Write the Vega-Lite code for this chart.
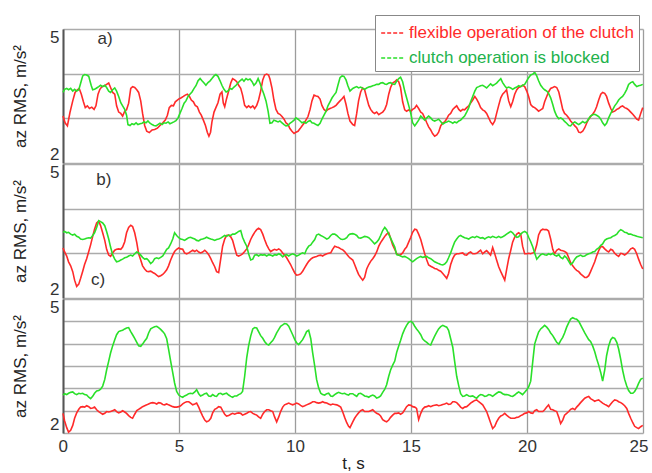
{
  "$schema": "https://vega.github.io/schema/vega-lite/v6.json",
  "background": "white",
  "padding": {"left": 11, "top": 14, "right": 2, "bottom": 2},
  "spacing": 0,
  "config": {
    "font": "Liberation Sans",
    "view": {"stroke": null},
    "axis": {
      "grid": true,
      "ticks": false,
      "labelFont": "Liberation Sans",
      "labelFontSize": 17,
      "labelColor": "#333333",
      "titleFont": "Liberation Sans",
      "titleFontSize": 17,
      "titleFontWeight": "normal",
      "titleColor": "#222222"
    },
    "axisX": {"gridColor": "#9c9c9c", "gridWidth": 1.3},
    "axisY": {"gridColor": "#ababab", "gridWidth": 1.3}
  },
  "datasets": {
    "tags": [
      {"p": "a", "t": 1.81, "v": 4.78, "label": "a)"},
      {"p": "b", "t": 1.76, "v": 4.64, "label": "b)"},
      {"p": "b", "t": 1.51, "v": 2.4, "label": "c)"}
    ],
    "a": [
      {"s":"r","t":0,"v":3.05},{"s":"r","t":0.09,"v":2.90},{"s":"r","t":0.19,"v":2.83},{"s":"r","t":0.30,"v":3.13},{"s":"r","t":0.42,"v":3.39},{"s":"r","t":0.52,"v":3.58},{"s":"r","t":0.62,"v":3.64},{"s":"r","t":0.70,"v":3.67},{"s":"r","t":0.79,"v":3.54},{"s":"r","t":0.88,"v":3.37},
      {"s":"r","t":0.96,"v":3.24},{"s":"r","t":1.05,"v":3.28},{"s":"r","t":1.14,"v":3.22},{"s":"r","t":1.24,"v":3.25},{"s":"r","t":1.34,"v":3.20},{"s":"r","t":1.42,"v":3.28},{"s":"r","t":1.51,"v":3.54},{"s":"r","t":1.59,"v":3.65},{"s":"r","t":1.68,"v":3.71},{"s":"r","t":1.80,"v":3.73},
      {"s":"r","t":1.88,"v":3.76},{"s":"r","t":1.97,"v":3.79},{"s":"r","t":2.05,"v":3.69},{"s":"r","t":2.14,"v":3.58},{"s":"r","t":2.23,"v":3.54},{"s":"r","t":2.31,"v":3.28},{"s":"r","t":2.40,"v":3.14},{"s":"r","t":2.49,"v":3.11},{"s":"r","t":2.57,"v":3.05},{"s":"r","t":2.66,"v":3.16},
      {"s":"r","t":2.74,"v":3.19},{"s":"r","t":2.83,"v":3.34},{"s":"r","t":2.92,"v":3.67},{"s":"r","t":3.00,"v":3.71},{"s":"r","t":3.09,"v":3.69},{"s":"r","t":3.18,"v":3.64},{"s":"r","t":3.26,"v":3.58},{"s":"r","t":3.35,"v":3.39},{"s":"r","t":3.43,"v":3.11},{"s":"r","t":3.52,"v":2.84},
      {"s":"r","t":3.61,"v":2.71},{"s":"r","t":3.72,"v":2.68},{"s":"r","t":3.84,"v":2.74},{"s":"r","t":3.95,"v":2.75},{"s":"r","t":4.07,"v":2.78},{"s":"r","t":4.18,"v":2.84},{"s":"r","t":4.30,"v":2.90},{"s":"r","t":4.41,"v":2.96},{"s":"r","t":4.50,"v":3.07},{"s":"r","t":4.58,"v":3.24},
      {"s":"r","t":4.67,"v":3.29},{"s":"r","t":4.76,"v":3.28},{"s":"r","t":4.84,"v":3.37},{"s":"r","t":4.93,"v":3.41},{"s":"r","t":5.01,"v":3.44},{"s":"r","t":5.10,"v":3.46},{"s":"r","t":5.19,"v":3.49},{"s":"r","t":5.27,"v":3.52},{"s":"r","t":5.36,"v":3.54},{"s":"r","t":5.45,"v":3.49},
      {"s":"r","t":5.53,"v":3.41},{"s":"r","t":5.62,"v":3.37},{"s":"r","t":5.70,"v":3.29},{"s":"r","t":5.79,"v":3.26},{"s":"r","t":5.88,"v":3.14},{"s":"r","t":5.96,"v":3.07},{"s":"r","t":6.05,"v":2.96},{"s":"r","t":6.14,"v":2.84},{"s":"r","t":6.22,"v":2.69},{"s":"r","t":6.29,"v":2.60},
      {"s":"r","t":6.36,"v":2.69},{"s":"r","t":6.42,"v":2.92},{"s":"r","t":6.51,"v":3.14},{"s":"r","t":6.59,"v":3.24},{"s":"r","t":6.68,"v":3.35},{"s":"r","t":6.77,"v":3.54},{"s":"r","t":6.85,"v":3.59},{"s":"r","t":6.91,"v":3.34},{"s":"r","t":6.97,"v":3.26},{"s":"r","t":7.05,"v":3.44},
      {"s":"r","t":7.14,"v":3.61},{"s":"r","t":7.23,"v":3.79},{"s":"r","t":7.31,"v":3.89},{"s":"r","t":7.40,"v":3.86},{"s":"r","t":7.49,"v":3.82},{"s":"r","t":7.57,"v":3.74},{"s":"r","t":7.66,"v":3.67},{"s":"r","t":7.74,"v":3.52},{"s":"r","t":7.83,"v":3.29},{"s":"r","t":7.92,"v":3.24},
      {"s":"r","t":8.00,"v":3.28},{"s":"r","t":8.09,"v":3.24},{"s":"r","t":8.18,"v":3.28},{"s":"r","t":8.26,"v":3.22},{"s":"r","t":8.35,"v":3.29},{"s":"r","t":8.43,"v":3.41},{"s":"r","t":8.52,"v":3.61},{"s":"r","t":8.61,"v":3.86},{"s":"r","t":8.69,"v":3.97},{"s":"r","t":8.78,"v":3.99},
      {"s":"r","t":8.86,"v":3.97},{"s":"r","t":8.92,"v":3.88},{"s":"r","t":9.01,"v":3.67},{"s":"r","t":9.09,"v":3.41},{"s":"r","t":9.18,"v":3.20},{"s":"r","t":9.27,"v":3.11},{"s":"r","t":9.35,"v":3.09},{"s":"r","t":9.44,"v":3.04},{"s":"r","t":9.53,"v":2.98},{"s":"r","t":9.61,"v":2.90},
      {"s":"r","t":9.70,"v":2.86},{"s":"r","t":9.78,"v":2.77},{"s":"r","t":9.87,"v":2.71},{"s":"r","t":9.96,"v":2.66},{"s":"r","t":10.04,"v":2.69},{"s":"r","t":10.13,"v":2.71},{"s":"r","t":10.22,"v":2.77},{"s":"r","t":10.30,"v":2.83},{"s":"r","t":10.39,"v":2.89},{"s":"r","t":10.47,"v":2.96},
      {"s":"r","t":10.56,"v":3.04},{"s":"r","t":10.65,"v":3.20},{"s":"r","t":10.73,"v":3.39},{"s":"r","t":10.82,"v":3.52},{"s":"r","t":10.91,"v":3.50},{"s":"r","t":10.99,"v":3.49},{"s":"r","t":11.08,"v":3.43},{"s":"r","t":11.16,"v":3.29},{"s":"r","t":11.25,"v":3.20},{"s":"r","t":11.34,"v":3.16},
      {"s":"r","t":11.42,"v":3.20},{"s":"r","t":11.51,"v":3.22},{"s":"r","t":11.60,"v":3.24},{"s":"r","t":11.68,"v":3.26},{"s":"r","t":11.77,"v":3.29},{"s":"r","t":11.85,"v":3.34},{"s":"r","t":11.94,"v":3.39},{"s":"r","t":12.03,"v":3.44},{"s":"r","t":12.11,"v":3.49},{"s":"r","t":12.20,"v":3.31},
      {"s":"r","t":12.28,"v":3.11},{"s":"r","t":12.37,"v":2.94},
      {"s":"r","t":12.49,"v":2.86},{"s":"r","t":12.57,"v":2.84},{"s":"r","t":12.66,"v":3.11},{"s":"r","t":12.74,"v":3.39},{"s":"r","t":12.83,"v":3.59},{"s":"r","t":12.92,"v":3.68},{"s":"r","t":13.00,"v":3.64},{"s":"r","t":13.09,"v":3.46},{"s":"r","t":13.18,"v":3.29},{"s":"r","t":13.26,"v":3.20},
      {"s":"r","t":13.35,"v":3.14},{"s":"r","t":13.43,"v":3.11},{"s":"r","t":13.52,"v":3.14},{"s":"r","t":13.61,"v":3.08},{"s":"r","t":13.69,"v":3.11},{"s":"r","t":13.78,"v":3.14},{"s":"r","t":13.87,"v":3.20},{"s":"r","t":13.95,"v":3.31},{"s":"r","t":14.04,"v":3.54},{"s":"r","t":14.12,"v":3.69},
      {"s":"r","t":14.21,"v":3.79},{"s":"r","t":14.30,"v":3.82},{"s":"r","t":14.38,"v":3.86},{"s":"r","t":14.47,"v":3.82},{"s":"r","t":14.55,"v":3.69},{"s":"r","t":14.64,"v":3.37},{"s":"r","t":14.73,"v":3.19},{"s":"r","t":14.81,"v":3.16},{"s":"r","t":14.90,"v":3.19},{"s":"r","t":14.99,"v":3.16},
      {"s":"r","t":15.07,"v":3.20},{"s":"r","t":15.16,"v":3.23},{"s":"r","t":15.24,"v":3.29},{"s":"r","t":15.33,"v":3.22},{"s":"r","t":15.42,"v":3.14},{"s":"r","t":15.50,"v":3.11},{"s":"r","t":15.59,"v":3.01},{"s":"r","t":15.68,"v":2.90},{"s":"r","t":15.76,"v":2.81},{"s":"r","t":15.85,"v":2.74},
      {"s":"r","t":15.93,"v":2.66},{"s":"r","t":16.02,"v":2.60},{"s":"r","t":16.11,"v":2.63},{"s":"r","t":16.19,"v":2.69},{"s":"r","t":16.28,"v":2.83},{"s":"r","t":16.37,"v":2.90},{"s":"r","t":16.45,"v":2.92},{"s":"r","t":16.54,"v":2.99},{"s":"r","t":16.62,"v":3.07},{"s":"r","t":16.71,"v":3.11},
      {"s":"r","t":16.80,"v":3.20},{"s":"r","t":16.88,"v":3.24},{"s":"r","t":16.97,"v":3.28},{"s":"r","t":17.06,"v":3.20},{"s":"r","t":17.14,"v":3.16},{"s":"r","t":17.23,"v":3.20},{"s":"r","t":17.31,"v":3.19},{"s":"r","t":17.40,"v":3.24},{"s":"r","t":17.49,"v":3.28},{"s":"r","t":17.57,"v":3.34},
      {"s":"r","t":17.66,"v":3.41},{"s":"r","t":17.75,"v":3.49},{"s":"r","t":17.83,"v":3.43},{"s":"r","t":17.92,"v":3.34},{"s":"r","t":18.00,"v":3.24},{"s":"r","t":18.09,"v":3.19},{"s":"r","t":18.18,"v":3.16},{"s":"r","t":18.26,"v":3.11},{"s":"r","t":18.35,"v":3.01},{"s":"r","t":18.43,"v":2.92},
      {"s":"r","t":18.52,"v":2.86},{"s":"r","t":18.61,"v":2.94},{"s":"r","t":18.69,"v":3.11},{"s":"r","t":18.78,"v":3.29},{"s":"r","t":18.87,"v":3.46},{"s":"r","t":18.95,"v":3.54},{"s":"r","t":19.04,"v":3.59},{"s":"r","t":19.12,"v":3.64},{"s":"r","t":19.21,"v":3.39},{"s":"r","t":19.30,"v":3.26},
      {"s":"r","t":19.38,"v":3.37},{"s":"r","t":19.47,"v":3.54},{"s":"r","t":19.56,"v":3.64},{"s":"r","t":19.64,"v":3.69},{"s":"r","t":19.73,"v":3.71},{"s":"r","t":19.81,"v":3.74},{"s":"r","t":19.90,"v":3.71},{"s":"r","t":19.99,"v":3.61},{"s":"r","t":20.07,"v":3.49},{"s":"r","t":20.16,"v":3.31},
      {"s":"r","t":20.25,"v":3.26},{"s":"r","t":20.33,"v":3.24},{"s":"r","t":20.42,"v":3.20},{"s":"r","t":20.50,"v":3.16},{"s":"r","t":20.59,"v":3.19},{"s":"r","t":20.68,"v":3.22},{"s":"r","t":20.76,"v":3.37},{"s":"r","t":20.85,"v":3.49},{"s":"r","t":20.93,"v":3.59},{"s":"r","t":21.02,"v":3.67},
      {"s":"r","t":21.11,"v":3.69},{"s":"r","t":21.19,"v":3.71},{"s":"r","t":21.28,"v":3.69},{"s":"r","t":21.37,"v":3.59},{"s":"r","t":21.45,"v":3.41},{"s":"r","t":21.54,"v":3.20},{"s":"r","t":21.62,"v":3.11},{"s":"r","t":21.71,"v":3.07},{"s":"r","t":21.80,"v":3.01},{"s":"r","t":21.88,"v":2.94},
      {"s":"r","t":21.97,"v":2.89},{"s":"r","t":22.06,"v":2.83},{"s":"r","t":22.14,"v":2.79},{"s":"r","t":22.23,"v":2.69},{"s":"r","t":22.31,"v":2.68},{"s":"r","t":22.40,"v":2.71},{"s":"r","t":22.49,"v":2.79},{"s":"r","t":22.57,"v":2.89},{"s":"r","t":22.66,"v":2.98},{"s":"r","t":22.74,"v":3.04},
      {"s":"r","t":22.83,"v":3.09},{"s":"r","t":22.92,"v":3.16},{"s":"r","t":23.00,"v":3.26},{"s":"r","t":23.09,"v":3.41},{"s":"r","t":23.18,"v":3.54},{"s":"r","t":23.26,"v":3.58},{"s":"r","t":23.35,"v":3.56},{"s":"r","t":23.43,"v":3.49},{"s":"r","t":23.52,"v":3.34},{"s":"r","t":23.61,"v":3.22},
      {"s":"r","t":23.69,"v":3.14},{"s":"r","t":23.78,"v":3.16},{"s":"r","t":23.87,"v":3.20},{"s":"r","t":23.95,"v":3.22},{"s":"r","t":24.04,"v":3.26},{"s":"r","t":24.12,"v":3.28},{"s":"r","t":24.21,"v":3.24},{"s":"r","t":24.30,"v":3.22},{"s":"r","t":24.38,"v":3.19},{"s":"r","t":24.47,"v":3.14},
      {"s":"r","t":24.56,"v":3.09},{"s":"r","t":24.64,"v":3.04},{"s":"r","t":24.73,"v":2.98},{"s":"r","t":24.81,"v":2.96},{"s":"r","t":24.90,"v":3.11},{"s":"r","t":24.99,"v":3.24},

      {"s":"g","t":0,"v":3.58},{"s":"g","t":0.07,"v":3.65},{"s":"g","t":0.16,"v":3.67},{"s":"g","t":0.24,"v":3.64},{"s":"g","t":0.33,"v":3.67},{"s":"g","t":0.42,"v":3.61},{"s":"g","t":0.50,"v":3.65},{"s":"g","t":0.59,"v":3.61},{"s":"g","t":0.68,"v":3.64},{"s":"g","t":0.73,"v":3.73},
      {"s":"g","t":0.79,"v":3.84},{"s":"g","t":0.85,"v":3.95},{"s":"g","t":0.93,"v":3.98},{"s":"g","t":1.02,"v":3.97},{"s":"g","t":1.11,"v":3.94},{"s":"g","t":1.16,"v":3.84},{"s":"g","t":1.22,"v":3.73},{"s":"g","t":1.28,"v":3.64},{"s":"g","t":1.36,"v":3.65},{"s":"g","t":1.45,"v":3.68},
      {"s":"g","t":1.54,"v":3.71},{"s":"g","t":1.62,"v":3.74},{"s":"g","t":1.71,"v":3.71},{"s":"g","t":1.80,"v":3.74},{"s":"g","t":1.88,"v":3.69},{"s":"g","t":1.97,"v":3.61},{"s":"g","t":2.05,"v":3.58},{"s":"g","t":2.14,"v":3.64},{"s":"g","t":2.23,"v":3.68},{"s":"g","t":2.31,"v":3.61},
      {"s":"g","t":2.40,"v":3.49},{"s":"g","t":2.49,"v":3.35},{"s":"g","t":2.57,"v":3.28},{"s":"g","t":2.66,"v":3.20},{"s":"g","t":2.74,"v":3.07},{"s":"g","t":2.80,"v":2.86},{"s":"g","t":2.89,"v":2.84},{"s":"g","t":2.97,"v":2.88},{"s":"g","t":3.06,"v":2.86},{"s":"g","t":3.15,"v":2.90},
      {"s":"g","t":3.23,"v":2.86},{"s":"g","t":3.32,"v":2.88},{"s":"g","t":3.41,"v":2.89},{"s":"g","t":3.49,"v":2.92},{"s":"g","t":3.58,"v":2.90},{"s":"g","t":3.66,"v":2.94},{"s":"g","t":3.75,"v":2.89},{"s":"g","t":3.84,"v":2.86},{"s":"g","t":3.92,"v":2.84},{"s":"g","t":4.01,"v":2.83},
      {"s":"g","t":4.09,"v":2.86},{"s":"g","t":4.18,"v":2.89},{"s":"g","t":4.27,"v":2.86},{"s":"g","t":4.35,"v":2.90},{"s":"g","t":4.44,"v":2.89},{"s":"g","t":4.53,"v":2.92},{"s":"g","t":4.61,"v":2.88},{"s":"g","t":4.70,"v":2.90},{"s":"g","t":4.78,"v":2.92},{"s":"g","t":4.87,"v":2.95},
      {"s":"g","t":4.96,"v":3.01},{"s":"g","t":5.04,"v":3.11},{"s":"g","t":5.13,"v":3.22},{"s":"g","t":5.22,"v":3.34},{"s":"g","t":5.30,"v":3.39},{"s":"g","t":5.39,"v":3.49},{"s":"g","t":5.47,"v":3.54},{"s":"g","t":5.56,"v":3.59},{"s":"g","t":5.65,"v":3.67},{"s":"g","t":5.73,"v":3.73},
      {"s":"g","t":5.82,"v":3.84},{"s":"g","t":5.91,"v":3.89},{"s":"g","t":5.99,"v":3.84},{"s":"g","t":6.08,"v":3.79},{"s":"g","t":6.16,"v":3.74},{"s":"g","t":6.25,"v":3.80},{"s":"g","t":6.34,"v":3.84},{"s":"g","t":6.42,"v":3.89},{"s":"g","t":6.51,"v":3.95},{"s":"g","t":6.59,"v":3.98},
      {"s":"g","t":6.68,"v":3.94},{"s":"g","t":6.77,"v":3.84},{"s":"g","t":6.85,"v":3.74},{"s":"g","t":6.94,"v":3.65},{"s":"g","t":7.03,"v":3.59},{"s":"g","t":7.11,"v":3.61},{"s":"g","t":7.20,"v":3.67},{"s":"g","t":7.28,"v":3.65},{"s":"g","t":7.37,"v":3.70},{"s":"g","t":7.46,"v":3.74},
      {"s":"g","t":7.54,"v":3.79},{"s":"g","t":7.63,"v":3.84},{"s":"g","t":7.72,"v":3.88},{"s":"g","t":7.80,"v":3.83},{"s":"g","t":7.89,"v":3.89},{"s":"g","t":7.97,"v":3.86},{"s":"g","t":8.06,"v":3.88},{"s":"g","t":8.15,"v":3.82},{"s":"g","t":8.23,"v":3.74},{"s":"g","t":8.32,"v":3.79},
      {"s":"g","t":8.41,"v":3.89},{"s":"g","t":8.49,"v":3.79},{"s":"g","t":8.58,"v":3.65},{"s":"g","t":8.66,"v":3.54},{"s":"g","t":8.75,"v":3.39},{"s":"g","t":8.84,"v":3.16},{"s":"g","t":8.92,"v":2.89},{"s":"g","t":9.01,"v":2.90},{"s":"g","t":9.09,"v":2.96},{"s":"g","t":9.18,"v":2.94},
      {"s":"g","t":9.27,"v":2.92},{"s":"g","t":9.35,"v":2.94},{"s":"g","t":9.44,"v":2.90},{"s":"g","t":9.53,"v":2.86},{"s":"g","t":9.61,"v":2.83},{"s":"g","t":9.70,"v":2.84},{"s":"g","t":9.78,"v":2.89},{"s":"g","t":9.87,"v":2.92},{"s":"g","t":9.96,"v":2.96},{"s":"g","t":10.04,"v":3.01},
      {"s":"g","t":10.13,"v":2.98},{"s":"g","t":10.22,"v":2.94},{"s":"g","t":10.30,"v":2.90},{"s":"g","t":10.39,"v":2.92},{"s":"g","t":10.47,"v":2.89},{"s":"g","t":10.56,"v":2.93},{"s":"g","t":10.65,"v":2.95},{"s":"g","t":10.73,"v":2.90},{"s":"g","t":10.82,"v":2.89},{"s":"g","t":10.91,"v":2.86},
      {"s":"g","t":10.99,"v":2.84},{"s":"g","t":11.08,"v":2.89},{"s":"g","t":11.16,"v":2.98},{"s":"g","t":11.25,"v":3.07},{"s":"g","t":11.34,"v":3.16},{"s":"g","t":11.42,"v":3.28},{"s":"g","t":11.51,"v":3.37},{"s":"g","t":11.60,"v":3.46},{"s":"g","t":11.68,"v":3.52},{"s":"g","t":11.77,"v":3.58},
      {"s":"g","t":11.85,"v":3.74},{"s":"g","t":11.94,"v":3.91},{"s":"g","t":12.03,"v":3.95},{"s":"g","t":12.11,"v":3.94},{"s":"g","t":12.20,"v":3.86},{"s":"g","t":12.28,"v":3.73},{"s":"g","t":12.37,"v":3.61},
      {"s":"g","t":12.49,"v":3.67},{"s":"g","t":12.57,"v":3.69},{"s":"g","t":12.66,"v":3.71},{"s":"g","t":12.74,"v":3.68},{"s":"g","t":12.83,"v":3.70},{"s":"g","t":12.92,"v":3.67},{"s":"g","t":13.00,"v":3.65},{"s":"g","t":13.09,"v":3.68},{"s":"g","t":13.18,"v":3.70},{"s":"g","t":13.26,"v":3.71},
      {"s":"g","t":13.35,"v":3.73},{"s":"g","t":13.43,"v":3.74},{"s":"g","t":13.52,"v":3.76},{"s":"g","t":13.61,"v":3.76},{"s":"g","t":13.69,"v":3.79},{"s":"g","t":13.78,"v":3.80},{"s":"g","t":13.87,"v":3.77},{"s":"g","t":13.95,"v":3.76},{"s":"g","t":14.04,"v":3.79},{"s":"g","t":14.12,"v":3.80},
      {"s":"g","t":14.21,"v":3.77},{"s":"g","t":14.30,"v":3.76},{"s":"g","t":14.38,"v":3.83},{"s":"g","t":14.47,"v":3.89},{"s":"g","t":14.55,"v":3.92},{"s":"g","t":14.64,"v":3.82},{"s":"g","t":14.73,"v":3.61},{"s":"g","t":14.81,"v":3.46},{"s":"g","t":14.90,"v":3.29},{"s":"g","t":14.99,"v":3.11},
      {"s":"g","t":15.07,"v":2.90},{"s":"g","t":15.16,"v":2.83},{"s":"g","t":15.24,"v":2.89},{"s":"g","t":15.33,"v":2.96},{"s":"g","t":15.42,"v":3.05},{"s":"g","t":15.50,"v":3.01},{"s":"g","t":15.59,"v":2.96},{"s":"g","t":15.68,"v":3.01},{"s":"g","t":15.76,"v":3.05},{"s":"g","t":15.85,"v":3.01},
      {"s":"g","t":15.93,"v":2.96},{"s":"g","t":16.02,"v":2.94},{"s":"g","t":16.11,"v":2.96},{"s":"g","t":16.19,"v":2.98},{"s":"g","t":16.28,"v":2.93},{"s":"g","t":16.37,"v":2.87},{"s":"g","t":16.45,"v":2.90},{"s":"g","t":16.54,"v":2.92},{"s":"g","t":16.62,"v":2.94},{"s":"g","t":16.71,"v":2.92},
      {"s":"g","t":16.80,"v":2.89},{"s":"g","t":16.88,"v":2.92},{"s":"g","t":16.97,"v":2.90},{"s":"g","t":17.06,"v":2.94},{"s":"g","t":17.14,"v":2.96},{"s":"g","t":17.23,"v":3.01},{"s":"g","t":17.31,"v":3.05},{"s":"g","t":17.40,"v":3.14},{"s":"g","t":17.49,"v":3.24},{"s":"g","t":17.57,"v":3.37},
      {"s":"g","t":17.66,"v":3.49},{"s":"g","t":17.75,"v":3.61},{"s":"g","t":17.83,"v":3.69},{"s":"g","t":17.92,"v":3.71},{"s":"g","t":18.00,"v":3.73},{"s":"g","t":18.09,"v":3.74},{"s":"g","t":18.18,"v":3.71},{"s":"g","t":18.26,"v":3.68},{"s":"g","t":18.35,"v":3.73},{"s":"g","t":18.43,"v":3.77},
      {"s":"g","t":18.52,"v":3.73},{"s":"g","t":18.61,"v":3.76},{"s":"g","t":18.69,"v":3.79},{"s":"g","t":18.78,"v":3.84},{"s":"g","t":18.87,"v":3.89},{"s":"g","t":18.95,"v":3.80},{"s":"g","t":19.04,"v":3.73},{"s":"g","t":19.12,"v":3.68},{"s":"g","t":19.21,"v":3.70},{"s":"g","t":19.30,"v":3.68},
      {"s":"g","t":19.38,"v":3.65},{"s":"g","t":19.47,"v":3.68},{"s":"g","t":19.56,"v":3.70},{"s":"g","t":19.64,"v":3.73},{"s":"g","t":19.73,"v":3.71},{"s":"g","t":19.81,"v":3.74},{"s":"g","t":19.90,"v":3.76},{"s":"g","t":19.99,"v":3.84},{"s":"g","t":20.07,"v":3.91},{"s":"g","t":20.16,"v":3.97},
      {"s":"g","t":20.25,"v":3.99},{"s":"g","t":20.33,"v":4.03},{"s":"g","t":20.42,"v":3.95},{"s":"g","t":20.50,"v":3.84},{"s":"g","t":20.59,"v":3.74},{"s":"g","t":20.68,"v":3.68},{"s":"g","t":20.76,"v":3.64},{"s":"g","t":20.85,"v":3.61},{"s":"g","t":20.93,"v":3.56},{"s":"g","t":21.02,"v":3.46},
      {"s":"g","t":21.11,"v":3.31},{"s":"g","t":21.19,"v":3.16},{"s":"g","t":21.28,"v":3.05},{"s":"g","t":21.37,"v":2.99},{"s":"g","t":21.45,"v":3.01},{"s":"g","t":21.54,"v":2.98},{"s":"g","t":21.62,"v":2.93},{"s":"g","t":21.71,"v":2.89},{"s":"g","t":21.80,"v":2.84},{"s":"g","t":21.88,"v":2.83},
      {"s":"g","t":21.97,"v":2.89},{"s":"g","t":22.06,"v":2.92},{"s":"g","t":22.14,"v":2.89},{"s":"g","t":22.23,"v":2.86},{"s":"g","t":22.31,"v":2.89},{"s":"g","t":22.40,"v":2.93},{"s":"g","t":22.49,"v":2.90},{"s":"g","t":22.57,"v":2.92},{"s":"g","t":22.66,"v":2.99},{"s":"g","t":22.74,"v":3.05},
      {"s":"g","t":22.83,"v":3.08},{"s":"g","t":22.92,"v":3.09},{"s":"g","t":23.00,"v":3.07},{"s":"g","t":23.09,"v":3.04},{"s":"g","t":23.18,"v":2.98},{"s":"g","t":23.26,"v":2.90},{"s":"g","t":23.35,"v":2.84},{"s":"g","t":23.43,"v":2.89},{"s":"g","t":23.52,"v":3.01},{"s":"g","t":23.61,"v":3.11},
      {"s":"g","t":23.69,"v":3.19},{"s":"g","t":23.78,"v":3.28},{"s":"g","t":23.87,"v":3.34},{"s":"g","t":23.95,"v":3.41},{"s":"g","t":24.04,"v":3.46},{"s":"g","t":24.12,"v":3.49},{"s":"g","t":24.21,"v":3.56},{"s":"g","t":24.30,"v":3.65},{"s":"g","t":24.38,"v":3.76},{"s":"g","t":24.47,"v":3.80},
      {"s":"g","t":24.56,"v":3.82},{"s":"g","t":24.64,"v":3.76},{"s":"g","t":24.73,"v":3.71},{"s":"g","t":24.81,"v":3.73},{"s":"g","t":24.90,"v":3.74},{"s":"g","t":24.99,"v":3.76}
    ],
    "b": [
      {"s":"r","t":0,"v":3.12},{"s":"r","t":0.07,"v":3.03},{"s":"r","t":0.16,"v":2.94},{"s":"r","t":0.24,"v":2.81},{"s":"r","t":0.33,"v":2.72},{"s":"r","t":0.42,"v":2.59},{"s":"r","t":0.50,"v":2.40},{"s":"r","t":0.59,"v":2.26},{"s":"r","t":0.68,"v":2.31},{"s":"r","t":0.76,"v":2.44},
      {"s":"r","t":0.85,"v":2.60},{"s":"r","t":0.93,"v":2.75},{"s":"r","t":1.02,"v":2.88},{"s":"r","t":1.11,"v":3.04},{"s":"r","t":1.19,"v":3.19},{"s":"r","t":1.28,"v":3.38},{"s":"r","t":1.36,"v":3.54},{"s":"r","t":1.45,"v":3.68},{"s":"r","t":1.54,"v":3.72},{"s":"r","t":1.62,"v":3.62},
      {"s":"r","t":1.71,"v":3.46},{"s":"r","t":1.80,"v":3.29},{"s":"r","t":1.88,"v":3.09},{"s":"r","t":1.97,"v":2.96},{"s":"r","t":2.05,"v":2.93},{"s":"r","t":2.14,"v":3.01},{"s":"r","t":2.23,"v":3.07},{"s":"r","t":2.31,"v":3.09},{"s":"r","t":2.40,"v":3.10},{"s":"r","t":2.49,"v":3.09},
      {"s":"r","t":2.57,"v":3.14},{"s":"r","t":2.66,"v":3.26},{"s":"r","t":2.74,"v":3.46},{"s":"r","t":2.83,"v":3.58},{"s":"r","t":2.92,"v":3.63},{"s":"r","t":3.00,"v":3.60},{"s":"r","t":3.09,"v":3.46},{"s":"r","t":3.18,"v":3.24},{"s":"r","t":3.26,"v":2.99},{"s":"r","t":3.35,"v":2.85},
      {"s":"r","t":3.43,"v":2.72},{"s":"r","t":3.52,"v":2.65},{"s":"r","t":3.61,"v":2.60},{"s":"r","t":3.69,"v":2.59},{"s":"r","t":3.78,"v":2.60},{"s":"r","t":3.87,"v":2.57},{"s":"r","t":3.95,"v":2.55},{"s":"r","t":4.04,"v":2.51},{"s":"r","t":4.12,"v":2.48},{"s":"r","t":4.21,"v":2.50},
      {"s":"r","t":4.30,"v":2.53},{"s":"r","t":4.38,"v":2.57},{"s":"r","t":4.47,"v":2.63},{"s":"r","t":4.55,"v":2.72},{"s":"r","t":4.64,"v":2.85},{"s":"r","t":4.73,"v":2.96},{"s":"r","t":4.81,"v":3.04},{"s":"r","t":4.90,"v":3.09},{"s":"r","t":4.99,"v":3.12},{"s":"r","t":5.07,"v":3.10},
      {"s":"r","t":5.16,"v":3.09},{"s":"r","t":5.24,"v":3.01},{"s":"r","t":5.33,"v":2.99},{"s":"r","t":5.42,"v":3.01},{"s":"r","t":5.50,"v":3.04},{"s":"r","t":5.59,"v":3.07},{"s":"r","t":5.68,"v":3.04},{"s":"r","t":5.76,"v":3.07},{"s":"r","t":5.85,"v":3.03},{"s":"r","t":5.93,"v":3.01},
      {"s":"r","t":6.02,"v":3.03},{"s":"r","t":6.11,"v":3.07},{"s":"r","t":6.19,"v":3.03},{"s":"r","t":6.28,"v":2.97},{"s":"r","t":6.37,"v":2.88},{"s":"r","t":6.45,"v":2.79},{"s":"r","t":6.54,"v":2.70},{"s":"r","t":6.62,"v":2.59},{"s":"r","t":6.71,"v":2.57},{"s":"r","t":6.80,"v":2.88},
      {"s":"r","t":6.88,"v":3.16},{"s":"r","t":6.97,"v":3.32},{"s":"r","t":7.05,"v":3.40},{"s":"r","t":7.14,"v":3.41},{"s":"r","t":7.23,"v":3.37},{"s":"r","t":7.31,"v":3.29},{"s":"r","t":7.40,"v":3.12},{"s":"r","t":7.49,"v":2.96},{"s":"r","t":7.57,"v":2.94},{"s":"r","t":7.66,"v":2.96},
      {"s":"r","t":7.74,"v":2.99},{"s":"r","t":7.83,"v":3.04},{"s":"r","t":7.92,"v":3.10},{"s":"r","t":8.00,"v":3.19},{"s":"r","t":8.09,"v":3.31},{"s":"r","t":8.18,"v":3.40},{"s":"r","t":8.26,"v":3.47},{"s":"r","t":8.35,"v":3.53},{"s":"r","t":8.43,"v":3.56},{"s":"r","t":8.52,"v":3.53},
      {"s":"r","t":8.61,"v":3.43},{"s":"r","t":8.69,"v":3.31},{"s":"r","t":8.78,"v":3.19},{"s":"r","t":8.87,"v":3.10},{"s":"r","t":8.95,"v":3.04},{"s":"r","t":9.04,"v":3.07},{"s":"r","t":9.12,"v":3.09},{"s":"r","t":9.21,"v":3.07},{"s":"r","t":9.30,"v":3.10},{"s":"r","t":9.38,"v":3.07},
      {"s":"r","t":9.47,"v":3.01},{"s":"r","t":9.55,"v":2.96},{"s":"r","t":9.64,"v":2.90},{"s":"r","t":9.73,"v":2.82},{"s":"r","t":9.81,"v":2.75},{"s":"r","t":9.90,"v":2.65},{"s":"r","t":9.99,"v":2.56},{"s":"r","t":10.07,"v":2.51},{"s":"r","t":10.16,"v":2.52},{"s":"r","t":10.24,"v":2.54},
      {"s":"r","t":10.33,"v":2.60},{"s":"r","t":10.42,"v":2.68},{"s":"r","t":10.50,"v":2.75},{"s":"r","t":10.59,"v":2.82},{"s":"r","t":10.68,"v":2.87},{"s":"r","t":10.76,"v":2.90},{"s":"r","t":10.85,"v":2.92},{"s":"r","t":10.93,"v":2.93},{"s":"r","t":11.02,"v":2.95},{"s":"r","t":11.11,"v":2.96},
      {"s":"r","t":11.19,"v":2.94},{"s":"r","t":11.28,"v":2.97},{"s":"r","t":11.37,"v":2.99},{"s":"r","t":11.45,"v":3.00},{"s":"r","t":11.54,"v":3.01},{"s":"r","t":11.62,"v":3.09},{"s":"r","t":11.71,"v":3.16},{"s":"r","t":11.80,"v":3.14},{"s":"r","t":11.88,"v":3.13},{"s":"r","t":11.97,"v":3.10},
      {"s":"r","t":12.05,"v":3.08},{"s":"r","t":12.14,"v":3.04},{"s":"r","t":12.23,"v":2.98},{"s":"r","t":12.31,"v":2.93},{"s":"r","t":12.37,"v":2.90},
      {"s":"r","t":12.49,"v":2.85},{"s":"r","t":12.57,"v":2.75},{"s":"r","t":12.66,"v":2.63},{"s":"r","t":12.74,"v":2.53},{"s":"r","t":12.83,"v":2.46},{"s":"r","t":12.92,"v":2.40},{"s":"r","t":13.00,"v":2.46},{"s":"r","t":13.09,"v":2.65},{"s":"r","t":13.18,"v":2.75},{"s":"r","t":13.26,"v":2.82},
      {"s":"r","t":13.35,"v":2.88},{"s":"r","t":13.43,"v":2.94},{"s":"r","t":13.52,"v":3.03},{"s":"r","t":13.61,"v":3.16},{"s":"r","t":13.69,"v":3.24},{"s":"r","t":13.78,"v":3.31},{"s":"r","t":13.87,"v":3.38},{"s":"r","t":13.95,"v":3.43},{"s":"r","t":14.04,"v":3.46},{"s":"r","t":14.12,"v":3.34},
      {"s":"r","t":14.21,"v":3.19},{"s":"r","t":14.30,"v":3.09},{"s":"r","t":14.38,"v":2.99},{"s":"r","t":14.47,"v":2.96},{"s":"r","t":14.55,"v":2.97},{"s":"r","t":14.64,"v":3.01},{"s":"r","t":14.73,"v":3.09},{"s":"r","t":14.81,"v":3.14},{"s":"r","t":14.90,"v":3.25},{"s":"r","t":14.99,"v":3.36},
      {"s":"r","t":15.07,"v":3.47},{"s":"r","t":15.16,"v":3.54},{"s":"r","t":15.24,"v":3.53},{"s":"r","t":15.33,"v":3.43},{"s":"r","t":15.42,"v":3.31},{"s":"r","t":15.50,"v":3.16},{"s":"r","t":15.59,"v":2.99},{"s":"r","t":15.68,"v":2.85},{"s":"r","t":15.76,"v":2.74},{"s":"r","t":15.85,"v":2.71},
      {"s":"r","t":15.93,"v":2.69},{"s":"r","t":16.02,"v":2.66},{"s":"r","t":16.11,"v":2.65},{"s":"r","t":16.19,"v":2.62},{"s":"r","t":16.28,"v":2.60},{"s":"r","t":16.37,"v":2.55},{"s":"r","t":16.45,"v":2.50},{"s":"r","t":16.54,"v":2.44},{"s":"r","t":16.62,"v":2.55},{"s":"r","t":16.71,"v":2.75},
      {"s":"r","t":16.80,"v":2.88},{"s":"r","t":16.88,"v":2.96},{"s":"r","t":16.97,"v":2.99},{"s":"r","t":17.06,"v":2.99},{"s":"r","t":17.14,"v":3.00},{"s":"r","t":17.23,"v":3.01},{"s":"r","t":17.31,"v":2.97},{"s":"r","t":17.40,"v":2.96},{"s":"r","t":17.49,"v":3.01},{"s":"r","t":17.57,"v":3.03},
      {"s":"r","t":17.66,"v":2.99},{"s":"r","t":17.75,"v":2.99},{"s":"r","t":17.83,"v":3.00},{"s":"r","t":17.92,"v":3.04},{"s":"r","t":18.00,"v":3.07},{"s":"r","t":18.09,"v":2.99},{"s":"r","t":18.18,"v":3.03},{"s":"r","t":18.26,"v":3.06},{"s":"r","t":18.35,"v":3.01},{"s":"r","t":18.43,"v":2.96},
      {"s":"r","t":18.52,"v":3.13},{"s":"r","t":18.61,"v":2.99},{"s":"r","t":18.69,"v":2.85},{"s":"r","t":18.78,"v":2.70},{"s":"r","t":18.87,"v":2.59},{"s":"r","t":18.95,"v":2.50},{"s":"r","t":19.04,"v":2.40},{"s":"r","t":19.12,"v":2.63},{"s":"r","t":19.21,"v":2.88},{"s":"r","t":19.30,"v":3.07},
      {"s":"r","t":19.38,"v":3.25},{"s":"r","t":19.47,"v":3.36},{"s":"r","t":19.56,"v":3.43},{"s":"r","t":19.64,"v":3.46},{"s":"r","t":19.73,"v":3.43},{"s":"r","t":19.81,"v":3.16},{"s":"r","t":19.90,"v":2.99},{"s":"r","t":19.99,"v":2.99},{"s":"r","t":20.07,"v":3.00},{"s":"r","t":20.16,"v":2.99},
      {"s":"r","t":20.25,"v":3.01},{"s":"r","t":20.33,"v":3.03},{"s":"r","t":20.42,"v":3.19},{"s":"r","t":20.50,"v":3.41},{"s":"r","t":20.59,"v":3.51},{"s":"r","t":20.68,"v":3.54},{"s":"r","t":20.76,"v":3.53},{"s":"r","t":20.85,"v":3.53},{"s":"r","t":20.93,"v":3.50},{"s":"r","t":21.02,"v":3.32},
      {"s":"r","t":21.11,"v":3.09},{"s":"r","t":21.19,"v":2.99},{"s":"r","t":21.28,"v":3.07},{"s":"r","t":21.37,"v":3.10},{"s":"r","t":21.45,"v":3.07},{"s":"r","t":21.54,"v":3.06},{"s":"r","t":21.62,"v":3.04},{"s":"r","t":21.71,"v":3.01},{"s":"r","t":21.80,"v":2.90},{"s":"r","t":21.88,"v":2.79},
      {"s":"r","t":21.97,"v":2.72},{"s":"r","t":22.06,"v":2.66},{"s":"r","t":22.14,"v":2.62},{"s":"r","t":22.23,"v":2.59},{"s":"r","t":22.31,"v":2.54},{"s":"r","t":22.40,"v":2.50},{"s":"r","t":22.49,"v":2.46},{"s":"r","t":22.57,"v":2.46},{"s":"r","t":22.66,"v":2.50},{"s":"r","t":22.74,"v":2.59},
      {"s":"r","t":22.83,"v":2.70},{"s":"r","t":22.92,"v":2.81},{"s":"r","t":23.00,"v":2.94},{"s":"r","t":23.09,"v":3.06},{"s":"r","t":23.18,"v":3.15},{"s":"r","t":23.26,"v":3.15},{"s":"r","t":23.35,"v":3.10},{"s":"r","t":23.43,"v":3.06},{"s":"r","t":23.52,"v":3.03},{"s":"r","t":23.61,"v":3.09},
      {"s":"r","t":23.69,"v":3.07},{"s":"r","t":23.78,"v":3.00},{"s":"r","t":23.87,"v":2.96},{"s":"r","t":23.95,"v":2.93},{"s":"r","t":24.04,"v":3.00},{"s":"r","t":24.12,"v":2.99},{"s":"r","t":24.21,"v":2.96},{"s":"r","t":24.30,"v":3.00},{"s":"r","t":24.38,"v":3.04},{"s":"r","t":24.47,"v":3.10},
      {"s":"r","t":24.56,"v":3.12},{"s":"r","t":24.64,"v":3.09},{"s":"r","t":24.73,"v":2.99},{"s":"r","t":24.81,"v":2.87},{"s":"r","t":24.90,"v":2.75},{"s":"r","t":24.99,"v":2.65},

      {"s":"g","t":0,"v":3.47},{"s":"g","t":0.07,"v":3.49},{"s":"g","t":0.16,"v":3.46},{"s":"g","t":0.24,"v":3.47},{"s":"g","t":0.33,"v":3.43},{"s":"g","t":0.42,"v":3.41},{"s":"g","t":0.50,"v":3.43},{"s":"g","t":0.59,"v":3.38},{"s":"g","t":0.68,"v":3.36},{"s":"g","t":0.76,"v":3.32},
      {"s":"g","t":0.85,"v":3.31},{"s":"g","t":0.93,"v":3.32},{"s":"g","t":1.02,"v":3.34},{"s":"g","t":1.11,"v":3.35},{"s":"g","t":1.19,"v":3.34},{"s":"g","t":1.28,"v":3.40},{"s":"g","t":1.36,"v":3.46},{"s":"g","t":1.45,"v":3.58},{"s":"g","t":1.54,"v":3.73},{"s":"g","t":1.62,"v":3.71},
      {"s":"g","t":1.71,"v":3.68},{"s":"g","t":1.80,"v":3.62},{"s":"g","t":1.88,"v":3.49},{"s":"g","t":1.97,"v":3.32},{"s":"g","t":2.05,"v":3.14},{"s":"g","t":2.14,"v":2.97},{"s":"g","t":2.23,"v":2.87},{"s":"g","t":2.31,"v":2.81},{"s":"g","t":2.40,"v":2.82},{"s":"g","t":2.49,"v":2.85},
      {"s":"g","t":2.57,"v":2.87},{"s":"g","t":2.66,"v":2.90},{"s":"g","t":2.74,"v":2.91},{"s":"g","t":2.83,"v":2.94},{"s":"g","t":2.92,"v":2.96},{"s":"g","t":3.00,"v":2.94},{"s":"g","t":3.09,"v":2.99},{"s":"g","t":3.18,"v":3.03},{"s":"g","t":3.26,"v":3.01},{"s":"g","t":3.35,"v":2.96},
      {"s":"g","t":3.43,"v":2.91},{"s":"g","t":3.52,"v":2.87},{"s":"g","t":3.61,"v":2.88},{"s":"g","t":3.69,"v":2.84},{"s":"g","t":3.78,"v":2.77},{"s":"g","t":3.87,"v":2.81},{"s":"g","t":3.95,"v":2.88},{"s":"g","t":4.04,"v":2.90},{"s":"g","t":4.12,"v":2.88},{"s":"g","t":4.21,"v":2.91},
      {"s":"g","t":4.30,"v":2.94},{"s":"g","t":4.38,"v":3.01},{"s":"g","t":4.47,"v":3.09},{"s":"g","t":4.55,"v":3.12},{"s":"g","t":4.64,"v":3.21},{"s":"g","t":4.73,"v":3.32},{"s":"g","t":4.81,"v":3.46},{"s":"g","t":4.90,"v":3.40},{"s":"g","t":4.99,"v":3.35},{"s":"g","t":5.07,"v":3.32},
      {"s":"g","t":5.16,"v":3.31},{"s":"g","t":5.24,"v":3.29},{"s":"g","t":5.33,"v":3.32},{"s":"g","t":5.42,"v":3.35},{"s":"g","t":5.50,"v":3.36},{"s":"g","t":5.59,"v":3.34},{"s":"g","t":5.68,"v":3.32},{"s":"g","t":5.76,"v":3.29},{"s":"g","t":5.85,"v":3.28},{"s":"g","t":5.93,"v":3.31},
      {"s":"g","t":6.02,"v":3.32},{"s":"g","t":6.11,"v":3.34},{"s":"g","t":6.19,"v":3.36},{"s":"g","t":6.28,"v":3.34},{"s":"g","t":6.37,"v":3.32},{"s":"g","t":6.45,"v":3.31},{"s":"g","t":6.54,"v":3.29},{"s":"g","t":6.62,"v":3.31},{"s":"g","t":6.71,"v":3.32},{"s":"g","t":6.80,"v":3.34},
      {"s":"g","t":6.88,"v":3.37},{"s":"g","t":6.97,"v":3.40},{"s":"g","t":7.05,"v":3.38},{"s":"g","t":7.14,"v":3.41},{"s":"g","t":7.23,"v":3.40},{"s":"g","t":7.31,"v":3.43},{"s":"g","t":7.40,"v":3.43},{"s":"g","t":7.49,"v":3.46},{"s":"g","t":7.57,"v":3.49},{"s":"g","t":7.66,"v":3.51},
      {"s":"g","t":7.74,"v":3.36},{"s":"g","t":7.83,"v":3.25},{"s":"g","t":7.92,"v":3.16},{"s":"g","t":8.00,"v":2.99},{"s":"g","t":8.09,"v":2.85},{"s":"g","t":8.18,"v":2.87},{"s":"g","t":8.26,"v":2.96},{"s":"g","t":8.35,"v":2.97},{"s":"g","t":8.43,"v":2.94},{"s":"g","t":8.52,"v":2.97},
      {"s":"g","t":8.61,"v":2.96},{"s":"g","t":8.69,"v":2.97},{"s":"g","t":8.78,"v":2.94},{"s":"g","t":8.87,"v":2.97},{"s":"g","t":8.95,"v":2.96},{"s":"g","t":9.04,"v":2.94},{"s":"g","t":9.12,"v":2.97},{"s":"g","t":9.21,"v":2.96},{"s":"g","t":9.30,"v":2.99},{"s":"g","t":9.38,"v":2.97},
      {"s":"g","t":9.47,"v":2.92},{"s":"g","t":9.55,"v":2.96},{"s":"g","t":9.64,"v":2.97},{"s":"g","t":9.73,"v":2.94},{"s":"g","t":9.81,"v":2.97},{"s":"g","t":9.90,"v":2.99},{"s":"g","t":9.99,"v":2.97},{"s":"g","t":10.07,"v":2.94},{"s":"g","t":10.16,"v":2.96},{"s":"g","t":10.24,"v":2.99},
      {"s":"g","t":10.33,"v":3.01},{"s":"g","t":10.42,"v":2.99},{"s":"g","t":10.50,"v":3.09},{"s":"g","t":10.59,"v":3.16},{"s":"g","t":10.68,"v":3.19},{"s":"g","t":10.76,"v":3.25},{"s":"g","t":10.85,"v":3.31},{"s":"g","t":10.93,"v":3.41},{"s":"g","t":11.02,"v":3.43},{"s":"g","t":11.11,"v":3.40},
      {"s":"g","t":11.19,"v":3.38},{"s":"g","t":11.28,"v":3.35},{"s":"g","t":11.37,"v":3.32},{"s":"g","t":11.45,"v":3.34},{"s":"g","t":11.54,"v":3.40},{"s":"g","t":11.62,"v":3.43},{"s":"g","t":11.71,"v":3.43},{"s":"g","t":11.80,"v":3.40},{"s":"g","t":11.88,"v":3.36},{"s":"g","t":11.97,"v":3.32},
      {"s":"g","t":12.05,"v":3.31},{"s":"g","t":12.14,"v":3.32},{"s":"g","t":12.23,"v":3.35},{"s":"g","t":12.31,"v":3.41},{"s":"g","t":12.37,"v":3.43},
      {"s":"g","t":12.49,"v":3.44},{"s":"g","t":12.57,"v":3.43},{"s":"g","t":12.66,"v":3.40},{"s":"g","t":12.74,"v":3.35},{"s":"g","t":12.83,"v":3.34},{"s":"g","t":12.92,"v":3.36},{"s":"g","t":13.00,"v":3.38},{"s":"g","t":13.09,"v":3.37},{"s":"g","t":13.18,"v":3.35},{"s":"g","t":13.26,"v":3.31},
      {"s":"g","t":13.35,"v":3.26},{"s":"g","t":13.43,"v":3.21},{"s":"g","t":13.52,"v":3.25},{"s":"g","t":13.61,"v":3.31},{"s":"g","t":13.69,"v":3.40},{"s":"g","t":13.78,"v":3.51},{"s":"g","t":13.87,"v":3.58},{"s":"g","t":13.95,"v":3.53},{"s":"g","t":14.04,"v":3.43},{"s":"g","t":14.12,"v":3.34},
      {"s":"g","t":14.21,"v":3.24},{"s":"g","t":14.30,"v":3.14},{"s":"g","t":14.38,"v":2.97},{"s":"g","t":14.47,"v":2.96},{"s":"g","t":14.55,"v":2.94},{"s":"g","t":14.64,"v":2.92},{"s":"g","t":14.73,"v":2.93},{"s":"g","t":14.81,"v":2.91},{"s":"g","t":14.90,"v":2.88},{"s":"g","t":14.99,"v":2.84},
      {"s":"g","t":15.07,"v":2.81},{"s":"g","t":15.16,"v":2.85},{"s":"g","t":15.24,"v":2.88},{"s":"g","t":15.33,"v":2.91},{"s":"g","t":15.42,"v":2.93},{"s":"g","t":15.50,"v":2.91},{"s":"g","t":15.59,"v":2.92},{"s":"g","t":15.68,"v":2.93},{"s":"g","t":15.76,"v":2.90},{"s":"g","t":15.85,"v":2.88},
      {"s":"g","t":15.93,"v":2.85},{"s":"g","t":16.02,"v":2.81},{"s":"g","t":16.11,"v":2.79},{"s":"g","t":16.19,"v":2.77},{"s":"g","t":16.28,"v":2.75},{"s":"g","t":16.37,"v":2.74},{"s":"g","t":16.45,"v":2.76},{"s":"g","t":16.54,"v":2.81},{"s":"g","t":16.62,"v":2.90},{"s":"g","t":16.71,"v":3.01},
      {"s":"g","t":16.80,"v":3.14},{"s":"g","t":16.88,"v":3.25},{"s":"g","t":16.97,"v":3.32},{"s":"g","t":17.06,"v":3.38},{"s":"g","t":17.14,"v":3.40},{"s":"g","t":17.23,"v":3.37},{"s":"g","t":17.31,"v":3.35},{"s":"g","t":17.40,"v":3.34},{"s":"g","t":17.49,"v":3.32},{"s":"g","t":17.57,"v":3.35},
      {"s":"g","t":17.66,"v":3.37},{"s":"g","t":17.75,"v":3.35},{"s":"g","t":17.83,"v":3.38},{"s":"g","t":17.92,"v":3.36},{"s":"g","t":18.00,"v":3.34},{"s":"g","t":18.09,"v":3.35},{"s":"g","t":18.18,"v":3.32},{"s":"g","t":18.26,"v":3.35},{"s":"g","t":18.35,"v":3.37},{"s":"g","t":18.43,"v":3.35},
      {"s":"g","t":18.52,"v":3.38},{"s":"g","t":18.61,"v":3.36},{"s":"g","t":18.69,"v":3.35},{"s":"g","t":18.78,"v":3.38},{"s":"g","t":18.87,"v":3.35},{"s":"g","t":18.95,"v":3.37},{"s":"g","t":19.04,"v":3.40},{"s":"g","t":19.12,"v":3.43},{"s":"g","t":19.21,"v":3.46},{"s":"g","t":19.30,"v":3.49},
      {"s":"g","t":19.38,"v":3.46},{"s":"g","t":19.47,"v":3.40},{"s":"g","t":19.56,"v":3.36},{"s":"g","t":19.64,"v":3.37},{"s":"g","t":19.73,"v":3.43},{"s":"g","t":19.81,"v":3.47},{"s":"g","t":19.90,"v":3.49},{"s":"g","t":19.99,"v":3.46},{"s":"g","t":20.07,"v":3.36},{"s":"g","t":20.16,"v":3.26},
      {"s":"g","t":20.25,"v":3.14},{"s":"g","t":20.33,"v":3.01},{"s":"g","t":20.42,"v":2.87},{"s":"g","t":20.50,"v":2.92},{"s":"g","t":20.59,"v":2.97},{"s":"g","t":20.68,"v":2.99},{"s":"g","t":20.76,"v":2.97},{"s":"g","t":20.85,"v":2.96},{"s":"g","t":20.93,"v":2.99},{"s":"g","t":21.02,"v":2.97},
      {"s":"g","t":21.11,"v":3.00},{"s":"g","t":21.19,"v":2.96},{"s":"g","t":21.28,"v":2.94},{"s":"g","t":21.37,"v":2.97},{"s":"g","t":21.45,"v":2.91},{"s":"g","t":21.54,"v":2.88},{"s":"g","t":21.62,"v":2.94},{"s":"g","t":21.71,"v":2.90},{"s":"g","t":21.80,"v":2.82},{"s":"g","t":21.88,"v":2.75},
      {"s":"g","t":21.97,"v":2.79},{"s":"g","t":22.06,"v":2.87},{"s":"g","t":22.14,"v":2.92},{"s":"g","t":22.23,"v":2.94},{"s":"g","t":22.31,"v":2.96},{"s":"g","t":22.40,"v":2.93},{"s":"g","t":22.49,"v":2.94},{"s":"g","t":22.57,"v":2.97},{"s":"g","t":22.66,"v":2.99},{"s":"g","t":22.74,"v":3.00},
      {"s":"g","t":22.83,"v":3.03},{"s":"g","t":22.92,"v":3.04},{"s":"g","t":23.00,"v":3.09},{"s":"g","t":23.09,"v":3.12},{"s":"g","t":23.18,"v":3.18},{"s":"g","t":23.26,"v":3.21},{"s":"g","t":23.35,"v":3.29},{"s":"g","t":23.43,"v":3.32},{"s":"g","t":23.52,"v":3.34},{"s":"g","t":23.61,"v":3.35},
      {"s":"g","t":23.69,"v":3.38},{"s":"g","t":23.78,"v":3.40},{"s":"g","t":23.87,"v":3.43},{"s":"g","t":23.95,"v":3.49},{"s":"g","t":24.04,"v":3.53},{"s":"g","t":24.12,"v":3.51},{"s":"g","t":24.21,"v":3.47},{"s":"g","t":24.30,"v":3.46},{"s":"g","t":24.38,"v":3.43},{"s":"g","t":24.47,"v":3.43},
      {"s":"g","t":24.56,"v":3.41},{"s":"g","t":24.64,"v":3.40},{"s":"g","t":24.73,"v":3.38},{"s":"g","t":24.81,"v":3.37},{"s":"g","t":24.90,"v":3.36},{"s":"g","t":24.99,"v":3.35}
    ],
    "c": [
      {"s":"r","t":0,"v":2.44},{"s":"r","t":0.07,"v":2.27},{"s":"r","t":0.16,"v":2.12},{"s":"r","t":0.24,"v":2.02},{"s":"r","t":0.33,"v":2.06},{"s":"r","t":0.42,"v":2.17},{"s":"r","t":0.50,"v":2.33},{"s":"r","t":0.59,"v":2.45},{"s":"r","t":0.68,"v":2.53},{"s":"r","t":0.76,"v":2.58},
      {"s":"r","t":0.85,"v":2.59},{"s":"r","t":0.93,"v":2.58},{"s":"r","t":1.02,"v":2.61},{"s":"r","t":1.11,"v":2.59},{"s":"r","t":1.19,"v":2.55},{"s":"r","t":1.28,"v":2.56},{"s":"r","t":1.36,"v":2.58},{"s":"r","t":1.45,"v":2.52},{"s":"r","t":1.54,"v":2.48},{"s":"r","t":1.62,"v":2.45},
      {"s":"r","t":1.71,"v":2.42},{"s":"r","t":1.80,"v":2.44},{"s":"r","t":1.88,"v":2.48},{"s":"r","t":1.97,"v":2.47},{"s":"r","t":2.05,"v":2.48},{"s":"r","t":2.14,"v":2.50},{"s":"r","t":2.23,"v":2.52},{"s":"r","t":2.31,"v":2.48},{"s":"r","t":2.40,"v":2.45},{"s":"r","t":2.49,"v":2.47},
      {"s":"r","t":2.57,"v":2.50},{"s":"r","t":2.66,"v":2.47},{"s":"r","t":2.74,"v":2.44},{"s":"r","t":2.83,"v":2.39},{"s":"r","t":2.92,"v":2.35},{"s":"r","t":3.00,"v":2.33},{"s":"r","t":3.09,"v":2.42},{"s":"r","t":3.18,"v":2.50},{"s":"r","t":3.26,"v":2.53},{"s":"r","t":3.35,"v":2.56},
      {"s":"r","t":3.43,"v":2.59},{"s":"r","t":3.52,"v":2.61},{"s":"r","t":3.61,"v":2.63},{"s":"r","t":3.69,"v":2.65},{"s":"r","t":3.78,"v":2.67},{"s":"r","t":3.87,"v":2.68},{"s":"r","t":3.95,"v":2.67},{"s":"r","t":4.04,"v":2.65},{"s":"r","t":4.12,"v":2.68},{"s":"r","t":4.21,"v":2.67},
      {"s":"r","t":4.30,"v":2.64},{"s":"r","t":4.38,"v":2.63},{"s":"r","t":4.47,"v":2.65},{"s":"r","t":4.55,"v":2.63},{"s":"r","t":4.64,"v":2.61},{"s":"r","t":4.73,"v":2.59},{"s":"r","t":4.81,"v":2.58},{"s":"r","t":4.90,"v":2.58},{"s":"r","t":4.99,"v":2.59},{"s":"r","t":5.07,"v":2.61},
      {"s":"r","t":5.16,"v":2.65},{"s":"r","t":5.24,"v":2.68},{"s":"r","t":5.33,"v":2.70},{"s":"r","t":5.42,"v":2.70},{"s":"r","t":5.50,"v":2.67},{"s":"r","t":5.59,"v":2.63},{"s":"r","t":5.68,"v":2.65},{"s":"r","t":5.76,"v":2.67},{"s":"r","t":5.85,"v":2.58},{"s":"r","t":5.93,"v":2.48},
      {"s":"r","t":6.02,"v":2.38},{"s":"r","t":6.11,"v":2.29},{"s":"r","t":6.19,"v":2.25},{"s":"r","t":6.28,"v":2.27},{"s":"r","t":6.37,"v":2.33},{"s":"r","t":6.45,"v":2.45},{"s":"r","t":6.54,"v":2.53},{"s":"r","t":6.62,"v":2.55},{"s":"r","t":6.71,"v":2.59},{"s":"r","t":6.80,"v":2.58},
      {"s":"r","t":6.88,"v":2.50},{"s":"r","t":6.97,"v":2.42},{"s":"r","t":7.05,"v":2.38},{"s":"r","t":7.14,"v":2.39},{"s":"r","t":7.23,"v":2.42},{"s":"r","t":7.31,"v":2.44},{"s":"r","t":7.40,"v":2.42},{"s":"r","t":7.49,"v":2.44},{"s":"r","t":7.57,"v":2.45},{"s":"r","t":7.66,"v":2.44},
      {"s":"r","t":7.74,"v":2.40},{"s":"r","t":7.83,"v":2.42},{"s":"r","t":7.92,"v":2.44},{"s":"r","t":8.00,"v":2.47},{"s":"r","t":8.09,"v":2.48},{"s":"r","t":8.18,"v":2.44},{"s":"r","t":8.26,"v":2.42},{"s":"r","t":8.35,"v":2.40},{"s":"r","t":8.43,"v":2.36},{"s":"r","t":8.52,"v":2.33},
      {"s":"r","t":8.61,"v":2.42},{"s":"r","t":8.69,"v":2.48},{"s":"r","t":8.78,"v":2.52},{"s":"r","t":8.87,"v":2.52},{"s":"r","t":8.95,"v":2.50},{"s":"r","t":9.04,"v":2.48},{"s":"r","t":9.12,"v":2.36},{"s":"r","t":9.21,"v":2.25},{"s":"r","t":9.30,"v":2.36},{"s":"r","t":9.38,"v":2.48},
      {"s":"r","t":9.47,"v":2.58},{"s":"r","t":9.55,"v":2.63},{"s":"r","t":9.64,"v":2.65},{"s":"r","t":9.73,"v":2.67},{"s":"r","t":9.81,"v":2.65},{"s":"r","t":9.90,"v":2.63},{"s":"r","t":9.99,"v":2.65},{"s":"r","t":10.07,"v":2.67},{"s":"r","t":10.16,"v":2.65},{"s":"r","t":10.24,"v":2.62},
      {"s":"r","t":10.33,"v":2.59},{"s":"r","t":10.42,"v":2.61},{"s":"r","t":10.50,"v":2.63},{"s":"r","t":10.59,"v":2.65},{"s":"r","t":10.68,"v":2.67},{"s":"r","t":10.76,"v":2.70},{"s":"r","t":10.85,"v":2.70},{"s":"r","t":10.93,"v":2.68},{"s":"r","t":11.02,"v":2.67},{"s":"r","t":11.11,"v":2.68},
      {"s":"r","t":11.19,"v":2.70},{"s":"r","t":11.28,"v":2.68},{"s":"r","t":11.37,"v":2.67},{"s":"r","t":11.45,"v":2.65},{"s":"r","t":11.54,"v":2.63},{"s":"r","t":11.62,"v":2.65},{"s":"r","t":11.71,"v":2.64},{"s":"r","t":11.80,"v":2.63},{"s":"r","t":11.88,"v":2.61},{"s":"r","t":11.97,"v":2.58},
      {"s":"r","t":12.05,"v":2.48},{"s":"r","t":12.14,"v":2.35},{"s":"r","t":12.23,"v":2.23},{"s":"r","t":12.31,"v":2.15},{"s":"r","t":12.37,"v":2.12},
      {"s":"r","t":12.49,"v":2.25},{"s":"r","t":12.57,"v":2.33},{"s":"r","t":12.66,"v":2.40},{"s":"r","t":12.74,"v":2.45},{"s":"r","t":12.83,"v":2.50},{"s":"r","t":12.92,"v":2.52},{"s":"r","t":13.00,"v":2.48},{"s":"r","t":13.09,"v":2.48},{"s":"r","t":13.18,"v":2.48},{"s":"r","t":13.26,"v":2.50},
      {"s":"r","t":13.35,"v":2.52},{"s":"r","t":13.43,"v":2.48},{"s":"r","t":13.52,"v":2.44},{"s":"r","t":13.61,"v":2.42},{"s":"r","t":13.69,"v":2.38},{"s":"r","t":13.78,"v":2.30},{"s":"r","t":13.87,"v":2.27},{"s":"r","t":13.95,"v":2.25},{"s":"r","t":14.04,"v":2.29},{"s":"r","t":14.12,"v":2.35},
      {"s":"r","t":14.21,"v":2.40},{"s":"r","t":14.30,"v":2.44},{"s":"r","t":14.38,"v":2.44},{"s":"r","t":14.47,"v":2.45},{"s":"r","t":14.55,"v":2.42},{"s":"r","t":14.64,"v":2.45},{"s":"r","t":14.73,"v":2.52},{"s":"r","t":14.81,"v":2.59},{"s":"r","t":14.90,"v":2.63},{"s":"r","t":14.99,"v":2.62},
      {"s":"r","t":15.07,"v":2.59},{"s":"r","t":15.16,"v":2.58},{"s":"r","t":15.24,"v":2.55},{"s":"r","t":15.33,"v":2.30},{"s":"r","t":15.42,"v":2.44},{"s":"r","t":15.50,"v":2.53},{"s":"r","t":15.59,"v":2.58},{"s":"r","t":15.68,"v":2.59},{"s":"r","t":15.76,"v":2.61},{"s":"r","t":15.85,"v":2.59},
      {"s":"r","t":15.93,"v":2.61},{"s":"r","t":16.02,"v":2.62},{"s":"r","t":16.11,"v":2.63},{"s":"r","t":16.19,"v":2.61},{"s":"r","t":16.28,"v":2.62},{"s":"r","t":16.37,"v":2.64},{"s":"r","t":16.45,"v":2.65},{"s":"r","t":16.54,"v":2.67},{"s":"r","t":16.62,"v":2.64},{"s":"r","t":16.71,"v":2.65},
      {"s":"r","t":16.80,"v":2.70},{"s":"r","t":16.88,"v":2.70},{"s":"r","t":16.97,"v":2.68},{"s":"r","t":17.06,"v":2.63},{"s":"r","t":17.14,"v":2.58},{"s":"r","t":17.23,"v":2.55},{"s":"r","t":17.31,"v":2.58},{"s":"r","t":17.40,"v":2.59},{"s":"r","t":17.49,"v":2.63},{"s":"r","t":17.57,"v":2.67},
      {"s":"r","t":17.66,"v":2.70},{"s":"r","t":17.75,"v":2.73},{"s":"r","t":17.83,"v":2.74},{"s":"r","t":17.92,"v":2.70},{"s":"r","t":18.00,"v":2.67},{"s":"r","t":18.09,"v":2.63},{"s":"r","t":18.18,"v":2.55},{"s":"r","t":18.26,"v":2.48},{"s":"r","t":18.35,"v":2.35},{"s":"r","t":18.43,"v":2.23},
      {"s":"r","t":18.52,"v":2.10},{"s":"r","t":18.61,"v":2.15},{"s":"r","t":18.69,"v":2.25},{"s":"r","t":18.78,"v":2.33},{"s":"r","t":18.87,"v":2.38},{"s":"r","t":18.95,"v":2.40},{"s":"r","t":19.04,"v":2.44},{"s":"r","t":19.12,"v":2.40},{"s":"r","t":19.21,"v":2.36},{"s":"r","t":19.30,"v":2.33},
      {"s":"r","t":19.38,"v":2.33},{"s":"r","t":19.47,"v":2.33},{"s":"r","t":19.56,"v":2.35},{"s":"r","t":19.64,"v":2.36},{"s":"r","t":19.73,"v":2.39},{"s":"r","t":19.81,"v":2.41},{"s":"r","t":19.90,"v":2.44},{"s":"r","t":19.99,"v":2.45},{"s":"r","t":20.07,"v":2.48},{"s":"r","t":20.16,"v":2.45},
      {"s":"r","t":20.25,"v":2.44},{"s":"r","t":20.33,"v":2.50},{"s":"r","t":20.42,"v":2.52},{"s":"r","t":20.50,"v":2.48},{"s":"r","t":20.59,"v":2.48},{"s":"r","t":20.68,"v":2.48},{"s":"r","t":20.76,"v":2.52},{"s":"r","t":20.85,"v":2.58},{"s":"r","t":20.93,"v":2.63},{"s":"r","t":21.02,"v":2.53},
      {"s":"r","t":21.11,"v":2.52},{"s":"r","t":21.19,"v":2.50},{"s":"r","t":21.28,"v":2.48},{"s":"r","t":21.37,"v":2.35},{"s":"r","t":21.45,"v":2.21},{"s":"r","t":21.54,"v":2.29},{"s":"r","t":21.62,"v":2.40},{"s":"r","t":21.71,"v":2.44},{"s":"r","t":21.80,"v":2.48},{"s":"r","t":21.88,"v":2.53},
      {"s":"r","t":21.97,"v":2.55},{"s":"r","t":22.06,"v":2.52},{"s":"r","t":22.14,"v":2.58},{"s":"r","t":22.23,"v":2.63},{"s":"r","t":22.31,"v":2.68},{"s":"r","t":22.40,"v":2.73},{"s":"r","t":22.49,"v":2.78},{"s":"r","t":22.57,"v":2.80},{"s":"r","t":22.66,"v":2.82},{"s":"r","t":22.74,"v":2.77},
      {"s":"r","t":22.83,"v":2.74},{"s":"r","t":22.92,"v":2.71},{"s":"r","t":23.00,"v":2.73},{"s":"r","t":23.09,"v":2.74},{"s":"r","t":23.18,"v":2.70},{"s":"r","t":23.26,"v":2.67},{"s":"r","t":23.35,"v":2.64},{"s":"r","t":23.43,"v":2.62},{"s":"r","t":23.52,"v":2.59},{"s":"r","t":23.61,"v":2.65},
      {"s":"r","t":23.69,"v":2.70},{"s":"r","t":23.78,"v":2.74},{"s":"r","t":23.87,"v":2.73},{"s":"r","t":23.95,"v":2.70},{"s":"r","t":24.04,"v":2.68},{"s":"r","t":24.12,"v":2.65},{"s":"r","t":24.21,"v":2.61},{"s":"r","t":24.30,"v":2.55},{"s":"r","t":24.38,"v":2.44},{"s":"r","t":24.47,"v":2.33},
      {"s":"r","t":24.56,"v":2.23},{"s":"r","t":24.64,"v":2.15},{"s":"r","t":24.73,"v":2.12},{"s":"r","t":24.81,"v":2.10},{"s":"r","t":24.90,"v":2.14},{"s":"r","t":24.99,"v":2.17},

      {"s":"g","t":0,"v":2.85},{"s":"g","t":0.07,"v":2.88},{"s":"g","t":0.16,"v":2.86},{"s":"g","t":0.24,"v":2.89},{"s":"g","t":0.33,"v":2.91},{"s":"g","t":0.42,"v":2.92},{"s":"g","t":0.50,"v":2.88},{"s":"g","t":0.59,"v":2.86},{"s":"g","t":0.68,"v":2.89},{"s":"g","t":0.76,"v":2.88},
      {"s":"g","t":0.85,"v":2.89},{"s":"g","t":0.93,"v":2.86},{"s":"g","t":1.02,"v":2.85},{"s":"g","t":1.11,"v":2.80},{"s":"g","t":1.19,"v":2.77},{"s":"g","t":1.28,"v":2.82},{"s":"g","t":1.36,"v":2.89},{"s":"g","t":1.45,"v":2.94},{"s":"g","t":1.54,"v":2.95},{"s":"g","t":1.62,"v":2.98},
      {"s":"g","t":1.71,"v":3.05},{"s":"g","t":1.80,"v":3.20},{"s":"g","t":1.88,"v":3.41},{"s":"g","t":1.97,"v":3.61},{"s":"g","t":2.05,"v":3.79},{"s":"g","t":2.14,"v":3.95},{"s":"g","t":2.23,"v":4.09},{"s":"g","t":2.31,"v":4.20},{"s":"g","t":2.40,"v":4.27},{"s":"g","t":2.49,"v":4.29},
      {"s":"g","t":2.57,"v":4.30},{"s":"g","t":2.66,"v":4.33},{"s":"g","t":2.74,"v":4.35},{"s":"g","t":2.83,"v":4.36},{"s":"g","t":2.92,"v":4.27},{"s":"g","t":3.00,"v":4.20},{"s":"g","t":3.09,"v":4.12},{"s":"g","t":3.18,"v":4.03},{"s":"g","t":3.26,"v":3.95},{"s":"g","t":3.35,"v":3.94},
      {"s":"g","t":3.43,"v":3.99},{"s":"g","t":3.52,"v":4.06},{"s":"g","t":3.61,"v":4.12},{"s":"g","t":3.69,"v":4.24},{"s":"g","t":3.78,"v":4.33},{"s":"g","t":3.87,"v":4.36},{"s":"g","t":3.95,"v":4.38},{"s":"g","t":4.04,"v":4.39},{"s":"g","t":4.12,"v":4.36},{"s":"g","t":4.21,"v":4.32},
      {"s":"g","t":4.30,"v":4.27},{"s":"g","t":4.38,"v":4.22},{"s":"g","t":4.47,"v":4.11},{"s":"g","t":4.55,"v":3.88},{"s":"g","t":4.64,"v":3.61},{"s":"g","t":4.73,"v":3.35},{"s":"g","t":4.81,"v":3.12},{"s":"g","t":4.90,"v":2.93},{"s":"g","t":4.99,"v":2.85},{"s":"g","t":5.07,"v":2.82},
      {"s":"g","t":5.16,"v":2.80},{"s":"g","t":5.24,"v":2.83},{"s":"g","t":5.33,"v":2.85},{"s":"g","t":5.42,"v":2.88},{"s":"g","t":5.50,"v":2.89},{"s":"g","t":5.59,"v":2.88},{"s":"g","t":5.68,"v":2.92},{"s":"g","t":5.76,"v":2.97},{"s":"g","t":5.85,"v":2.88},{"s":"g","t":5.93,"v":2.83},
      {"s":"g","t":6.02,"v":2.85},{"s":"g","t":6.11,"v":2.88},{"s":"g","t":6.19,"v":2.89},{"s":"g","t":6.28,"v":2.83},{"s":"g","t":6.37,"v":2.82},{"s":"g","t":6.45,"v":2.86},{"s":"g","t":6.54,"v":2.83},{"s":"g","t":6.62,"v":2.82},{"s":"g","t":6.71,"v":2.88},{"s":"g","t":6.80,"v":2.89},
      {"s":"g","t":6.88,"v":2.86},{"s":"g","t":6.97,"v":2.88},{"s":"g","t":7.05,"v":2.89},{"s":"g","t":7.14,"v":2.85},{"s":"g","t":7.23,"v":2.82},{"s":"g","t":7.31,"v":2.80},{"s":"g","t":7.40,"v":2.83},{"s":"g","t":7.49,"v":2.83},{"s":"g","t":7.57,"v":2.86},{"s":"g","t":7.66,"v":2.88},
      {"s":"g","t":7.74,"v":2.93},{"s":"g","t":7.83,"v":3.27},{"s":"g","t":7.92,"v":3.69},{"s":"g","t":8.00,"v":3.95},{"s":"g","t":8.09,"v":4.17},{"s":"g","t":8.18,"v":4.33},{"s":"g","t":8.26,"v":4.36},{"s":"g","t":8.35,"v":4.35},{"s":"g","t":8.43,"v":4.27},{"s":"g","t":8.52,"v":4.18},
      {"s":"g","t":8.61,"v":4.12},{"s":"g","t":8.69,"v":4.05},{"s":"g","t":8.78,"v":3.99},{"s":"g","t":8.87,"v":3.97},{"s":"g","t":8.95,"v":4.02},{"s":"g","t":9.04,"v":4.07},{"s":"g","t":9.12,"v":4.14},{"s":"g","t":9.21,"v":4.24},{"s":"g","t":9.30,"v":4.32},{"s":"g","t":9.38,"v":4.39},
      {"s":"g","t":9.47,"v":4.42},{"s":"g","t":9.55,"v":4.45},{"s":"g","t":9.64,"v":4.44},{"s":"g","t":9.73,"v":4.39},{"s":"g","t":9.81,"v":4.30},{"s":"g","t":9.90,"v":4.20},{"s":"g","t":9.99,"v":4.09},{"s":"g","t":10.07,"v":4.02},{"s":"g","t":10.16,"v":3.98},{"s":"g","t":10.24,"v":4.03},
      {"s":"g","t":10.33,"v":4.09},{"s":"g","t":10.42,"v":4.18},{"s":"g","t":10.50,"v":4.27},{"s":"g","t":10.59,"v":4.30},{"s":"g","t":10.68,"v":4.11},{"s":"g","t":10.76,"v":3.80},{"s":"g","t":10.85,"v":3.50},{"s":"g","t":10.93,"v":3.20},{"s":"g","t":11.02,"v":3.01},{"s":"g","t":11.11,"v":2.89},
      {"s":"g","t":11.19,"v":2.86},{"s":"g","t":11.28,"v":2.85},{"s":"g","t":11.37,"v":2.88},{"s":"g","t":11.45,"v":2.89},{"s":"g","t":11.54,"v":2.83},{"s":"g","t":11.62,"v":2.82},{"s":"g","t":11.71,"v":2.86},{"s":"g","t":11.80,"v":2.89},{"s":"g","t":11.88,"v":2.91},{"s":"g","t":11.97,"v":2.89},
      {"s":"g","t":12.05,"v":2.88},{"s":"g","t":12.14,"v":2.89},{"s":"g","t":12.23,"v":2.86},{"s":"g","t":12.31,"v":2.85},{"s":"g","t":12.37,"v":2.88},
      {"s":"g","t":12.49,"v":2.88},{"s":"g","t":12.57,"v":2.85},{"s":"g","t":12.66,"v":2.82},{"s":"g","t":12.74,"v":2.88},{"s":"g","t":12.83,"v":2.89},{"s":"g","t":12.92,"v":2.86},{"s":"g","t":13.00,"v":2.83},{"s":"g","t":13.09,"v":2.82},{"s":"g","t":13.18,"v":2.80},{"s":"g","t":13.26,"v":2.83},
      {"s":"g","t":13.35,"v":2.85},{"s":"g","t":13.43,"v":2.83},{"s":"g","t":13.52,"v":2.78},{"s":"g","t":13.61,"v":2.80},{"s":"g","t":13.69,"v":2.83},{"s":"g","t":13.78,"v":2.91},{"s":"g","t":13.87,"v":2.98},{"s":"g","t":13.95,"v":3.08},{"s":"g","t":14.04,"v":3.27},{"s":"g","t":14.12,"v":3.41},
      {"s":"g","t":14.21,"v":3.52},{"s":"g","t":14.30,"v":3.61},{"s":"g","t":14.38,"v":3.80},{"s":"g","t":14.47,"v":3.95},{"s":"g","t":14.55,"v":4.07},{"s":"g","t":14.64,"v":4.22},{"s":"g","t":14.73,"v":4.33},{"s":"g","t":14.81,"v":4.41},{"s":"g","t":14.90,"v":4.48},{"s":"g","t":14.99,"v":4.50},
      {"s":"g","t":15.07,"v":4.47},{"s":"g","t":15.16,"v":4.39},{"s":"g","t":15.24,"v":4.33},{"s":"g","t":15.33,"v":4.27},{"s":"g","t":15.42,"v":4.20},{"s":"g","t":15.50,"v":4.11},{"s":"g","t":15.59,"v":4.06},{"s":"g","t":15.68,"v":4.03},{"s":"g","t":15.76,"v":3.99},{"s":"g","t":15.85,"v":3.97},
      {"s":"g","t":15.93,"v":4.07},{"s":"g","t":16.02,"v":4.17},{"s":"g","t":16.11,"v":4.26},{"s":"g","t":16.19,"v":4.33},{"s":"g","t":16.28,"v":4.38},{"s":"g","t":16.37,"v":4.41},{"s":"g","t":16.45,"v":4.39},{"s":"g","t":16.54,"v":4.37},{"s":"g","t":16.62,"v":4.30},{"s":"g","t":16.71,"v":4.11},
      {"s":"g","t":16.80,"v":3.92},{"s":"g","t":16.88,"v":3.61},{"s":"g","t":16.97,"v":3.27},{"s":"g","t":17.06,"v":3.05},{"s":"g","t":17.14,"v":2.88},{"s":"g","t":17.23,"v":2.82},{"s":"g","t":17.31,"v":2.83},{"s":"g","t":17.40,"v":2.86},{"s":"g","t":17.49,"v":2.83},{"s":"g","t":17.57,"v":2.82},
      {"s":"g","t":17.66,"v":2.83},{"s":"g","t":17.75,"v":2.80},{"s":"g","t":17.83,"v":2.78},{"s":"g","t":17.92,"v":2.83},{"s":"g","t":18.00,"v":2.86},{"s":"g","t":18.09,"v":2.85},{"s":"g","t":18.18,"v":2.82},{"s":"g","t":18.26,"v":2.83},{"s":"g","t":18.35,"v":2.86},{"s":"g","t":18.43,"v":2.85},
      {"s":"g","t":18.52,"v":2.82},{"s":"g","t":18.61,"v":2.86},{"s":"g","t":18.69,"v":2.89},{"s":"g","t":18.78,"v":2.92},{"s":"g","t":18.87,"v":2.91},{"s":"g","t":18.95,"v":2.88},{"s":"g","t":19.04,"v":2.86},{"s":"g","t":19.12,"v":2.86},{"s":"g","t":19.21,"v":2.85},{"s":"g","t":19.30,"v":2.83},
      {"s":"g","t":19.38,"v":2.82},{"s":"g","t":19.47,"v":2.85},{"s":"g","t":19.56,"v":2.89},{"s":"g","t":19.64,"v":2.92},{"s":"g","t":19.73,"v":2.89},{"s":"g","t":19.81,"v":2.86},{"s":"g","t":19.90,"v":2.91},{"s":"g","t":19.99,"v":2.97},{"s":"g","t":20.07,"v":3.03},{"s":"g","t":20.16,"v":3.16},
      {"s":"g","t":20.25,"v":3.61},{"s":"g","t":20.33,"v":3.99},{"s":"g","t":20.42,"v":4.14},{"s":"g","t":20.50,"v":4.26},{"s":"g","t":20.59,"v":4.33},{"s":"g","t":20.68,"v":4.37},{"s":"g","t":20.76,"v":4.41},{"s":"g","t":20.85,"v":4.37},{"s":"g","t":20.93,"v":4.32},{"s":"g","t":21.02,"v":4.24},
      {"s":"g","t":21.11,"v":4.18},{"s":"g","t":21.19,"v":4.11},{"s":"g","t":21.28,"v":4.03},{"s":"g","t":21.37,"v":3.99},{"s":"g","t":21.45,"v":4.07},{"s":"g","t":21.54,"v":4.14},{"s":"g","t":21.62,"v":4.24},{"s":"g","t":21.71,"v":4.37},{"s":"g","t":21.80,"v":4.47},{"s":"g","t":21.88,"v":4.55},
      {"s":"g","t":21.97,"v":4.58},{"s":"g","t":22.06,"v":4.56},{"s":"g","t":22.14,"v":4.55},{"s":"g","t":22.23,"v":4.50},{"s":"g","t":22.31,"v":4.42},{"s":"g","t":22.40,"v":4.33},{"s":"g","t":22.49,"v":4.24},{"s":"g","t":22.57,"v":4.17},{"s":"g","t":22.66,"v":4.09},{"s":"g","t":22.74,"v":4.05},
      {"s":"g","t":22.83,"v":3.95},{"s":"g","t":22.92,"v":3.82},{"s":"g","t":23.00,"v":3.67},{"s":"g","t":23.09,"v":3.52},{"s":"g","t":23.18,"v":3.35},{"s":"g","t":23.26,"v":3.16},{"s":"g","t":23.35,"v":3.41},{"s":"g","t":23.43,"v":3.73},{"s":"g","t":23.52,"v":3.95},{"s":"g","t":23.61,"v":4.09},
      {"s":"g","t":23.69,"v":4.14},{"s":"g","t":23.78,"v":4.12},{"s":"g","t":23.87,"v":4.03},{"s":"g","t":23.95,"v":3.88},{"s":"g","t":24.04,"v":3.65},{"s":"g","t":24.12,"v":3.41},{"s":"g","t":24.21,"v":3.20},{"s":"g","t":24.30,"v":3.05},{"s":"g","t":24.38,"v":2.95},{"s":"g","t":24.47,"v":2.89},
      {"s":"g","t":24.56,"v":2.89},{"s":"g","t":24.64,"v":2.93},{"s":"g","t":24.73,"v":3.01},{"s":"g","t":24.81,"v":3.11},{"s":"g","t":24.90,"v":3.20},{"s":"g","t":24.99,"v":3.23}
    ]
  },
  "vconcat": [
    {
      "width": 580,
      "height": 134,
      "layer": [
        {
          "data": {"name": "a"},
          "mark": {"type": "line", "strokeWidth": 1.6},
          "encoding": {
            "x": {"field": "t", "type": "quantitative", "scale": {"domain": [0, 25], "nice": false},
                  "axis": {"values": [0, 5, 10, 15, 20, 25], "labels": false, "domain": false, "title": null}},
            "y": {"field": "v", "type": "quantitative", "scale": {"domain": [2, 5], "nice": false},
                  "axis": {"values": [2, 2.5, 3, 3.5, 4, 4.5, 5], "labelExpr": "datum.value == 2 ? '2' : datum.value == 5 ? '5' : ''",
                           "labelFlush": true, "labelPadding": 4, "domainColor": "#555555", "domainWidth": 2,
                           "title": "az RMS, m/s²", "titlePadding": 20}},
            "color": {"field": "s", "type": "nominal",
                      "scale": {"domain": ["r", "g"], "range": ["#ff2a2a", "#2ae02a"]},
                      "legend": {"title": null, "orient": "none", "legendX": 312, "legendY": -14,
                                 "labelExpr": "datum.value == 'r' ? 'flexible operation of the clutch' : 'clutch operation is blocked'",
                                 "labelColor": {"expr": "datum.value == 'r' ? '#ff2a2a' : '#22b24c'"},
                                 "labelFont": "Liberation Sans", "labelFontSize": 17, "labelOffset": 3, "labelLimit": 400,
                                 "symbolType": "stroke", "symbolSize": 560, "symbolStrokeWidth": 1.5, "symbolDash": [4, 2],
                                 "padding": 5, "rowPadding": 4, "strokeColor": "#888888", "fillColor": "white", "cornerRadius": 0}}
          }
        },
        {
          "data": {"name": "tags"},
          "transform": [{"filter": "datum.p == 'a'"}],
          "mark": {"type": "text", "fontSize": 17, "color": "#333333"},
          "encoding": {
            "x": {"field": "t", "type": "quantitative"},
            "y": {"field": "v", "type": "quantitative"},
            "text": {"field": "label"}
          }
        }
      ]
    },
    {
      "width": 580,
      "height": 134,
      "layer": [
        {
          "data": {"name": "b"},
          "mark": {"type": "line", "strokeWidth": 1.6},
          "encoding": {
            "x": {"field": "t", "type": "quantitative", "scale": {"domain": [0, 25], "nice": false},
                  "axis": {"values": [0, 5, 10, 15, 20, 25], "labels": false, "domain": false, "title": null}},
            "y": {"field": "v", "type": "quantitative", "scale": {"domain": [2, 5], "nice": false},
                  "axis": {"values": [2, 2.5, 3, 3.5, 4, 4.5, 5], "labelExpr": "datum.value == 2 ? '2' : datum.value == 5 ? '5' : ''",
                           "labelFlush": true, "labelPadding": 4, "domainColor": "#555555", "domainWidth": 2,
                           "title": "az RMS, m/s²", "titlePadding": 20}},
            "color": {"field": "s", "type": "nominal",
                      "scale": {"domain": ["r", "g"], "range": ["#ff2a2a", "#2ae02a"]},
                      "legend": {"title": null, "orient": "none", "legendX": 312, "legendY": -14,
                                 "labelExpr": "datum.value == 'r' ? 'flexible operation of the clutch' : 'clutch operation is blocked'",
                                 "labelColor": {"expr": "datum.value == 'r' ? '#ff2a2a' : '#22b24c'"},
                                 "labelFont": "Liberation Sans", "labelFontSize": 17, "labelOffset": 3, "labelLimit": 400,
                                 "symbolType": "stroke", "symbolSize": 560, "symbolStrokeWidth": 1.5, "symbolDash": [4, 2],
                                 "padding": 5, "rowPadding": 4, "strokeColor": "#888888", "fillColor": "white", "cornerRadius": 0}}
          }
        },
        {
          "data": {"name": "tags"},
          "transform": [{"filter": "datum.p == 'b'"}],
          "mark": {"type": "text", "fontSize": 17, "color": "#333333"},
          "encoding": {
            "x": {"field": "t", "type": "quantitative"},
            "y": {"field": "v", "type": "quantitative"},
            "text": {"field": "label"}
          }
        }
      ]
    },
    {
      "width": 580,
      "height": 134,
      "data": {"name": "c"},
      "mark": {"type": "line", "strokeWidth": 1.6},
      "encoding": {
        "x": {"field": "t", "type": "quantitative", "scale": {"domain": [0, 25], "nice": false},
              "axis": {"values": [0, 5, 10, 15, 20, 25], "labelFlush": true, "labelFlushOffset": 5, "labelPadding": 5, "domain": false,
                       "title": "t, s", "titlePadding": 1}},
        "y": {"field": "v", "type": "quantitative", "scale": {"domain": [2, 5], "nice": false},
              "axis": {"values": [2, 2.5, 3, 3.5, 4, 4.5, 5], "labelExpr": "datum.value == 2 ? '2' : datum.value == 5 ? '5' : ''",
                       "labelFlush": true, "labelPadding": 4, "domainColor": "#555555", "domainWidth": 2,
                       "title": "az RMS, m/s²", "titlePadding": 20}},
        "color": {"field": "s", "type": "nominal",
                  "scale": {"domain": ["r", "g"], "range": ["#ff2a2a", "#2ae02a"]},
                  "legend": {"title": null, "orient": "none", "legendX": 312, "legendY": -14,
                             "labelExpr": "datum.value == 'r' ? 'flexible operation of the clutch' : 'clutch operation is blocked'",
                             "labelColor": {"expr": "datum.value == 'r' ? '#ff2a2a' : '#22b24c'"},
                             "labelFont": "Liberation Sans", "labelFontSize": 17, "labelOffset": 3, "labelLimit": 400,
                             "symbolType": "stroke", "symbolSize": 560, "symbolStrokeWidth": 1.5, "symbolDash": [4, 2],
                             "padding": 5, "rowPadding": 4, "strokeColor": "#888888", "fillColor": "white", "cornerRadius": 0}}
      }
    }
  ]
}
